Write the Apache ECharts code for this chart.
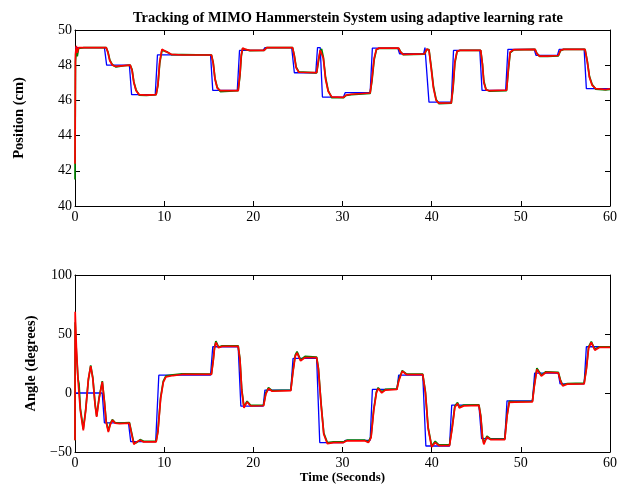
<!DOCTYPE html>
<html>
<head>
<meta charset="utf-8">
<script src="https://cdn.jsdelivr.net/npm/echarts@6/dist/echarts.min.js"></script>
<style>html,body{margin:0;padding:0;background:#fff}#c{width:626px;height:488px}</style>
</head>
<body>
<div id="c"></div>
<script>
const chartTitle = 'Tracking of MIMO Hammerstein System using adaptive learning rate';
const xTicks = [0, 10, 20, 30, 40, 50, 60];
const posTicks = [40, 42, 44, 46, 48, 50];
const angTicks = [-50, 0, 50, 100];

// Position: reference (blue)
const posRef = [[0,49],[3.3,49],[3.55,48],[6.1,48],[6.35,46.33],[9.0,46.33],[9.25,48.59],[15.2,48.59],[15.45,46.57],[18.2,46.57],[18.45,48.84],[21.1,48.84],[21.3,49.0],[24.3,49.0],[24.6,47.57],[27.0,47.57],[27.2,49.0],[27.5,49.0],[27.75,46.19],[30.1,46.19],[30.3,46.44],[33.1,46.44],[33.35,48.97],[36.2,48.97],[36.4,48.65],[39.1,48.65],[39.25,49.0],[39.45,49.0],[39.7,45.9],[42.2,45.9],[42.45,48.84],[45.4,48.84],[45.65,46.57],[48.3,46.57],[48.55,48.9],[51.5,48.9],[51.7,48.56],[54.1,48.56],[54.3,48.9],[57.1,48.9],[57.35,46.67],[60,46.67]];
// Position: output 1 (green)
const posOut1 = [[0,41.5],[0.05,48.2],[0.15,48.9],[0.25,48.5],[0.4,48.95],[0.6,48.85],[1.0,49.0],[3.5,49.0],[3.7,48.75],[3.9,48.3],[4.2,48.02],[4.6,47.9],[5.5,47.97],[6.2,48.0],[6.4,47.75],[6.6,47.05],[6.85,46.6],[7.2,46.3],[8.0,46.28],[9.1,46.33],[9.3,46.85],[9.5,48.1],[9.75,48.85],[9.95,48.95],[10.3,48.76],[10.8,48.6],[12,48.6],[15.3,48.58],[15.5,48.15],[15.7,47.25],[15.95,46.75],[16.3,46.5],[18.3,46.55],[18.5,47.4],[18.65,48.5],[18.8,48.95],[19.1,48.9],[19.6,48.83],[21.2,48.84],[21.5,49.0],[24.4,49.0],[24.6,48.55],[24.8,47.9],[25.1,47.62],[27.1,47.56],[27.3,48.2],[27.5,48.8],[27.65,48.92],[27.85,48.45],[28.1,47.3],[28.4,46.55],[28.8,46.15],[30.1,46.15],[30.4,46.28],[31,46.33],[33.1,46.4],[33.3,47.1],[33.55,48.3],[33.8,48.88],[34.1,48.96],[36.3,48.96],[36.5,48.78],[36.8,48.6],[39.2,48.63],[39.45,48.9],[39.7,48.88],[39.95,47.9],[40.2,46.8],[40.5,46.05],[40.8,45.82],[42.2,45.84],[42.4,46.7],[42.6,48.1],[42.85,48.78],[43.2,48.85],[45.5,48.84],[45.7,48.05],[45.85,47.1],[46.1,46.62],[46.5,46.52],[48.4,46.56],[48.6,47.7],[48.8,48.7],[49.2,48.87],[51.6,48.9],[51.8,48.68],[52.1,48.5],[53,48.5],[54.2,48.53],[54.45,48.82],[54.8,48.9],[57.2,48.9],[57.45,48.25],[57.7,47.35],[58.0,46.9],[58.4,46.64],[59.5,46.6],[60,46.62]];
// Position: output 2 (red)
const posOut2 = [[0,42.4],[0.05,48.6],[0.15,49.1],[0.25,48.7],[0.4,49.0],[0.6,48.9],[1.0,49.0],[3.5,49.0],[3.7,48.7],[3.9,48.25],[4.2,48.0],[4.6,47.93],[5.5,47.98],[6.2,48.0],[6.4,47.7],[6.6,47.0],[6.85,46.55],[7.2,46.33],[8.0,46.3],[9.1,46.33],[9.3,46.9],[9.5,48.2],[9.75,48.9],[9.95,48.97],[10.3,48.75],[10.8,48.62],[12,48.58],[15.3,48.58],[15.5,48.1],[15.7,47.2],[15.95,46.7],[16.3,46.55],[18.3,46.56],[18.5,47.5],[18.65,48.6],[18.8,48.97],[19.1,48.9],[19.6,48.84],[21.2,48.84],[21.5,49.0],[24.4,49.0],[24.6,48.5],[24.8,47.85],[25.1,47.6],[27.1,47.58],[27.3,48.3],[27.5,48.85],[27.65,48.93],[27.85,48.4],[28.1,47.2],[28.4,46.5],[28.8,46.2],[30.1,46.17],[30.4,46.3],[31,46.35],[33.1,46.42],[33.3,47.2],[33.55,48.4],[33.8,48.9],[34.1,48.97],[36.3,48.97],[36.5,48.75],[36.8,48.62],[39.2,48.64],[39.45,48.92],[39.7,48.85],[39.95,47.8],[40.2,46.7],[40.5,46.0],[40.8,45.85],[42.2,45.86],[42.4,46.8],[42.6,48.2],[42.85,48.8],[43.2,48.84],[45.5,48.84],[45.7,48.0],[45.85,47.0],[46.1,46.6],[46.5,46.55],[48.4,46.58],[48.6,47.8],[48.8,48.75],[49.2,48.88],[51.6,48.9],[51.8,48.65],[52.1,48.52],[53,48.52],[54.2,48.55],[54.45,48.85],[54.8,48.9],[57.2,48.9],[57.45,48.2],[57.7,47.3],[58.0,46.85],[58.4,46.67],[59.5,46.62],[60,46.65]];

// Angle: reference (blue)
const angRef = [[0,0],[3.05,0],[3.3,-25.4],[6.0,-25.4],[6.25,-41.2],[9.05,-41.2],[9.4,15.1],[15.2,15.1],[15.45,39.2],[18.3,39.2],[18.6,-11.2],[21.1,-11.2],[21.3,2.4],[24.2,2.4],[24.45,29.3],[27.1,29.3],[27.45,-42],[30.1,-42],[30.3,-40.1],[33.1,-40.1],[33.35,3.0],[36.1,3.0],[36.3,15.1],[39.0,15.1],[39.35,-44.9],[42.0,-44.9],[42.25,-10.3],[45.3,-10.3],[45.6,-38.7],[48.2,-38.7],[48.45,-6.7],[51.3,-6.7],[51.55,16.8],[54.2,16.8],[54.4,7.8],[57.1,7.8],[57.35,39.2],[60,39.2]];
// Angle: output 1 (green)
const angOut1 = [[0,-40],[0.02,60],[0.15,35],[0.34,12],[0.45,8],[0.6,-13],[0.93,-30.5],[1.2,-14],[1.5,11],[1.76,23.5],[2.0,13],[2.25,-9],[2.43,-19.5],[2.7,-4],[3.06,10],[3.3,-7],[3.5,-24],[3.74,-32],[3.95,-26],[4.19,-22.5],[4.5,-25],[5,-25.5],[6.1,-25],[6.3,-32],[6.6,-42.5],[6.9,-42],[7.3,-39.5],[7.7,-41],[9.1,-41],[9.3,-32],[9.6,-4],[9.9,10],[10.2,14.5],[11,15.3],[12,16.2],[15.3,16],[15.5,28],[15.65,39],[15.8,44],[16.1,39],[16.5,40],[18.3,40],[18.5,29],[18.7,3],[18.95,-11.5],[19.3,-7],[19.7,-10.5],[21.15,-10.2],[21.4,0],[21.7,4.5],[22.1,2],[24.2,2.5],[24.45,19],[24.7,32],[24.9,35],[25.3,28],[25.8,31],[27.1,30.5],[27.3,21],[27.6,-9],[27.9,-34],[28.3,-42],[29,-41.5],[30.1,-41.5],[30.5,-40],[32.5,-40],[32.9,-41.5],[33.2,-37],[33.5,-14],[33.8,1],[34.0,4.5],[34.4,1],[34.8,3],[36.1,3.5],[36.3,11],[36.7,19],[37.2,16],[39.0,16],[39.3,1],[39.6,-29],[40.0,-45],[40.4,-41],[40.8,-44],[42.0,-44],[42.3,-29],[42.6,-11],[42.9,-8],[43.1,-12],[43.6,-10.2],[45.3,-10],[45.5,-19],[45.7,-37],[45.85,-42.5],[46.2,-36.5],[46.6,-39],[48.2,-39],[48.45,-19],[48.7,-7],[48.9,-6],[49.3,-7.2],[51.3,-7],[51.5,6],[51.8,21],[52.3,15],[52.8,18],[54.2,17.5],[54.45,11],[54.7,6.5],[55.2,8],[57.1,8.3],[57.35,21],[57.6,39],[57.9,43.5],[58.3,37],[58.8,39.2],[60,39.2]];
// Angle: output 2 (red)
const angOut2 = [[0,-40],[0.02,68.9],[0.15,40],[0.34,10.9],[0.6,-15],[0.93,-31.6],[1.2,-15],[1.5,12],[1.76,22.7],[2.0,12],[2.25,-10],[2.43,-20.3],[2.7,-5],[3.06,9.4],[3.3,-8],[3.5,-25],[3.74,-33],[3.95,-27],[4.19,-23],[4.5,-25.5],[5,-26],[6.1,-25.5],[6.3,-33],[6.6,-43.5],[6.9,-41.5],[7.3,-40],[7.7,-41.5],[9.1,-41.5],[9.3,-33],[9.6,-5],[9.9,9],[10.2,13.7],[11,14.8],[12,15.7],[15.3,15.8],[15.5,27],[15.65,38],[15.8,42.9],[16.1,38.3],[16.5,39.5],[18.3,39.5],[18.5,28],[18.7,2],[18.95,-12.6],[19.3,-7.6],[19.7,-11],[21.15,-10.8],[21.4,-1],[21.7,3.8],[22.1,1.5],[24.2,2],[24.45,18],[24.7,31],[24.9,34],[25.3,27.2],[25.8,30.1],[27.1,30],[27.3,20],[27.6,-10],[27.9,-35],[28.3,-42.9],[29,-42],[30.1,-42],[30.5,-40.5],[32.5,-40.5],[32.9,-42],[33.2,-38],[33.5,-15],[33.8,0],[34.0,3.8],[34.4,0.1],[34.8,2.5],[36.1,3.0],[36.3,10],[36.7,18.5],[37.2,15.5],[39.0,15.5],[39.3,0],[39.6,-30],[40.0,-45.8],[40.4,-42],[40.8,-44.6],[42.0,-44.6],[42.3,-30],[42.6,-12],[42.9,-8.9],[43.1,-12.6],[43.6,-10.9],[45.3,-10.5],[45.5,-20],[45.7,-38],[45.85,-43.5],[46.2,-37.3],[46.6,-39.5],[48.2,-39.5],[48.45,-20],[48.7,-8],[48.9,-6.7],[49.3,-7.8],[51.3,-7.5],[51.5,5],[51.8,20],[52.3,14.3],[52.8,17.4],[54.2,17],[54.45,10],[54.7,6.0],[55.2,7.5],[57.1,7.8],[57.35,20],[57.6,38],[57.9,42.9],[58.3,36.3],[58.8,38.6],[60,38.6]];

const FONT = "'Liberation Serif', 'Times New Roman', serif";
const chart = echarts.init(document.getElementById('c'), null, {renderer: 'canvas'});

function fmtMinus(v) { return String(v).replace('-', '\u2212'); }

function mkX(gridIndex, ticks, showLabel, name) {
  return {
    type: 'value', gridIndex: gridIndex, position: 'bottom',
    min: ticks[0], max: ticks[ticks.length - 1], interval: ticks[1] - ticks[0],
    axisLine: {show: true, onZero: false, lineStyle: {color: '#000', width: 1}},
    axisTick: {show: true, inside: true, length: 5, lineStyle: {color: '#000'}},
    axisLabel: {show: showLabel, color: '#000', fontFamily: FONT, fontSize: 14, margin: 4},
    splitLine: {show: false},
    name: name || '', nameLocation: 'middle', nameGap: 18,
    nameTextStyle: {color: '#000', fontFamily: FONT, fontSize: 13, fontWeight: 'bold'}
  };
}
function mkXTop(gridIndex, ticks) {
  return {
    type: 'value', gridIndex: gridIndex, position: 'top',
    min: ticks[0], max: ticks[ticks.length - 1], interval: ticks[1] - ticks[0],
    axisLine: {show: true, onZero: false, lineStyle: {color: '#000', width: 1}},
    axisTick: {show: true, inside: true, length: 5, lineStyle: {color: '#000'}},
    axisLabel: {show: false}, splitLine: {show: false}
  };
}
function mkY(gridIndex, ticks, name, gap) {
  return {
    type: 'value', gridIndex: gridIndex, position: 'left',
    min: ticks[0], max: ticks[ticks.length - 1], interval: ticks[1] - ticks[0],
    axisLine: {show: true, onZero: false, lineStyle: {color: '#000', width: 1}},
    axisTick: {show: true, inside: true, length: 5, lineStyle: {color: '#000'}},
    axisLabel: {show: true, color: '#000', fontFamily: FONT, fontSize: 14, margin: 3, formatter: fmtMinus},
    splitLine: {show: false},
    name: name, nameLocation: 'middle', nameGap: gap, nameRotate: 90,
    nameTextStyle: {color: '#000', fontFamily: FONT, fontSize: 14.5, fontWeight: 'bold'}
  };
}
function mkYRight(gridIndex, ticks) {
  return {
    type: 'value', gridIndex: gridIndex, position: 'right',
    min: ticks[0], max: ticks[ticks.length - 1], interval: ticks[1] - ticks[0],
    axisLine: {show: true, onZero: false, lineStyle: {color: '#000', width: 1}},
    axisTick: {show: true, inside: true, length: 5, lineStyle: {color: '#000'}},
    axisLabel: {show: false}, splitLine: {show: false}
  };
}
function line(xi, yi, data, color, width, z) {
  return {type: 'line', xAxisIndex: xi, yAxisIndex: yi, data: data, showSymbol: false, symbol: 'none',
    lineStyle: {color: color, width: width}, z: z, animation: false, silent: true};
}

chart.setOption({
  animation: false,
  backgroundColor: '#fff',
  title: {text: chartTitle, left: 343, textAlign: 'center', top: 6,
    textStyle: {fontFamily: FONT, fontSize: 14.4, fontWeight: 'bold', color: '#000'}},
  grid: [
    {left: 75, top: 30, width: 535, height: 176, outerBoundsMode: 'none', containLabel: false},
    {left: 75, top: 275, width: 535, height: 177, outerBoundsMode: 'none', containLabel: false}
  ],
  xAxis: [
    mkX(0, xTicks, true), mkXTop(0, xTicks),
    mkX(1, xTicks, true, 'Time (Seconds)'), mkXTop(1, xTicks)
  ],
  yAxis: [
    mkY(0, posTicks, 'Position (cm)', 48), mkYRight(0, posTicks),
    mkY(1, angTicks, 'Angle (degrees)', 31), mkYRight(1, angTicks)
  ],
  series: [
    line(0, 0, posRef, '#0000ff', 1.3, 2),
    line(0, 0, posOut1, '#008000', 1.7, 3),
    line(0, 0, posOut2, '#ff0000', 1.7, 4),
    line(2, 2, angRef, '#0000ff', 1.3, 2),
    line(2, 2, angOut1, '#008000', 1.7, 3),
    line(2, 2, angOut2, '#ff0000', 1.7, 4)
  ]
});
</script>
</body>
</html>
